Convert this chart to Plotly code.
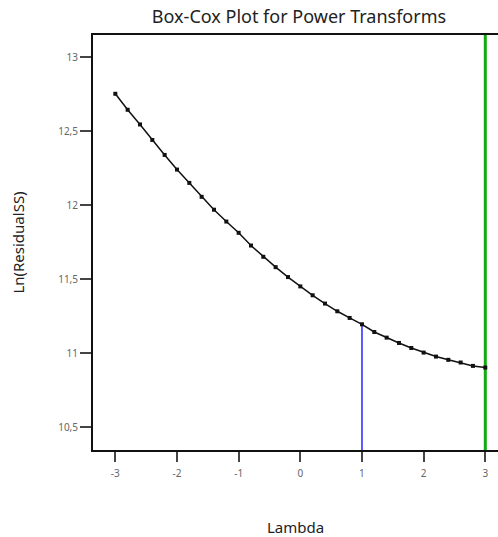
import plotly.graph_objects as go

lam = [-3.0, -2.8, -2.6, -2.4, -2.2, -2.0, -1.8, -1.6, -1.4, -1.2, -1.0,
       -0.8, -0.6, -0.4, -0.2, 0.0, 0.2, 0.4, 0.6, 0.8, 1.0,
       1.2, 1.4, 1.6, 1.8, 2.0, 2.2, 2.4, 2.6, 2.8, 3.0]
ln_rss = [12.753, 12.645, 12.546, 12.441, 12.340, 12.241, 12.151, 12.057, 11.970, 11.890, 11.814,
          11.728, 11.652, 11.582, 11.515, 11.452, 11.392, 11.336, 11.284, 11.239, 11.196,
          11.144, 11.106, 11.070, 11.036, 11.005, 10.978, 10.956, 10.938, 10.915, 10.904]
current_lambda = 1.0
current_value = 11.196
best_lambda = 3.0

x_ticks = [-3, -2, -1, 0, 1, 2, 3]
x_ticktext = ["-3", "-2", "-1", "0", "1", "2", "3"]
y_ticks = [10.5, 11, 11.5, 12, 12.5, 13]
y_ticktext = ["10,5", "11", "11,5", "12", "12,5", "13"]
x_range = [-3.362, 3.206]
y_range = [10.347, 13.15]

fig = go.Figure()
fig.add_trace(go.Scatter(x=[current_lambda, current_lambda], y=[y_range[0], current_value],
                         mode="lines", line=dict(color="#5a5aff", width=2), showlegend=False))
fig.add_trace(go.Scatter(x=[best_lambda, best_lambda], y=y_range,
                         mode="lines", line=dict(color="#11aa11", width=3), showlegend=False))
fig.add_trace(go.Scatter(x=lam, y=ln_rss, mode="lines+markers",
                         line=dict(color="#111111", width=1.5),
                         marker=dict(color="#111111", size=4, symbol="square"),
                         showlegend=False))

fig.update_layout(
    width=498, height=537,
    margin=dict(l=93, r=0, t=35, b=87),
    paper_bgcolor="white", plot_bgcolor="white",
    separators=",.",
    font=dict(family="Noto Sans", color="#222222"),
    title=dict(text="Box-Cox Plot for Power Transforms", x=299/498, xanchor="center",
               y=1 - 17/537, yanchor="middle", font=dict(size=18, color="#222222")),
    xaxis=dict(range=x_range, tickvals=x_ticks, ticktext=x_ticktext, showgrid=False, zeroline=False,
               showline=True, linecolor="#111111", linewidth=2, mirror=True,
               ticks="outside", ticklen=10, tickwidth=2, tickcolor="#444444",
               ticklabelstandoff=3,
               tickfont=dict(size=10, color="#666666"),
               title=dict(text="Lambda", font=dict(size=15, color="#222222"), standoff=47)),
    yaxis=dict(range=y_range, tickvals=y_ticks, ticktext=y_ticktext, showgrid=False, zeroline=False,
               showline=True, linecolor="#111111", linewidth=2,
               ticks="outside", ticklen=11, tickwidth=2, tickcolor="#444444",
               tickfont=dict(size=10, color="#666666"),
               title=dict(text="Ln(ResidualSS)", font=dict(size=15, color="#222222"), standoff=30)),
)

fig.write_html("out.html")
